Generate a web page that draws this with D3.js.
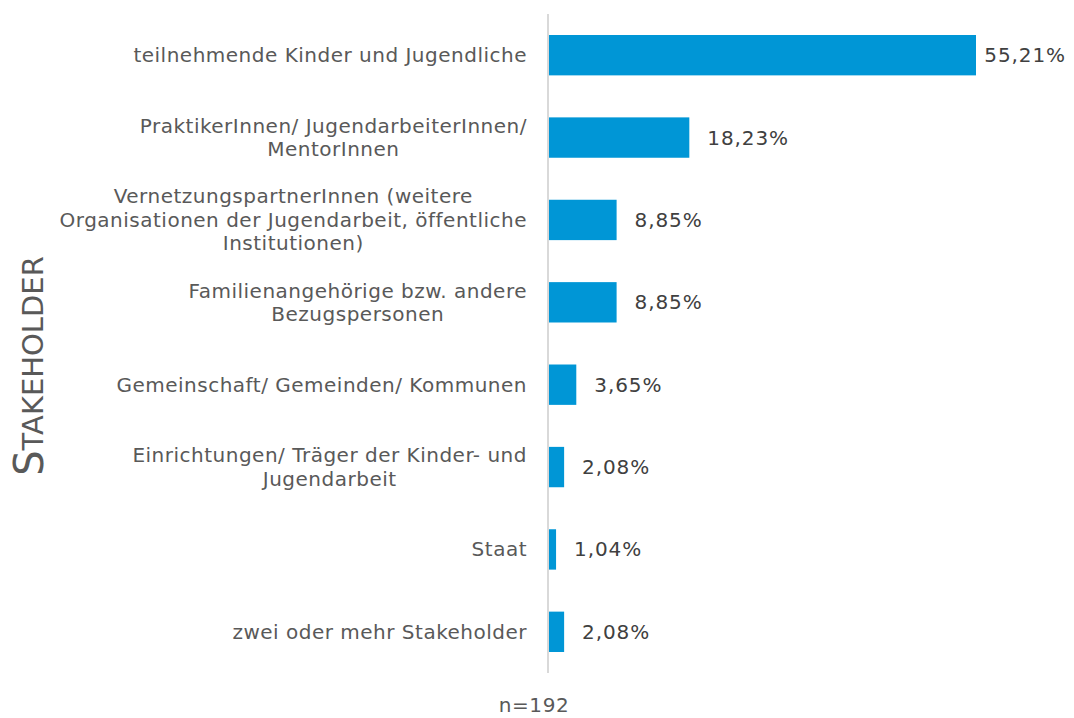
<!DOCTYPE html>
<html>
<head>
<meta charset="utf-8">
<script src="https://cdn.jsdelivr.net/npm/d3@7"></script>
<style>
  body { margin: 0; background: #fff; }
  svg text { font-family: Verdana, "DejaVu Sans", sans-serif; }
</style>
</head>
<body>
<div id="chart"></div>
<script>
// category labels, split in lines as in the picture
const categories = [
    ['teilnehmende Kinder und Jugendliche'],
    ['PraktikerInnen/ JugendarbeiterInnen/', 'MentorInnen'],
    ['VernetzungspartnerInnen (weitere', 'Organisationen der Jugendarbeit, öffentliche', 'Institutionen)'],
    ['Familienangehörige bzw. andere', 'Bezugspersonen'],
    ['Gemeinschaft/ Gemeinden/ Kommunen'],
    ['Einrichtungen/ Träger der Kinder- und', 'Jugendarbeit'],
    ['Staat'],
    ['zwei oder mehr Stakeholder']
];
const values = [55.21, 18.23, 8.85, 8.85, 3.65, 2.08, 1.04, 2.08];
const axisTitle = 'Stakeholder';
const footNote = 'n=192';

const width = 1074, height = 718;
const axisX = 548;
const labelRight = 527;
const lineH = 23.5;

const svg = d3.select('#chart').append('svg')
    .attr('width', width)
    .attr('height', height);

const x = d3.scaleLinear()
    .domain([0, 55.21])
    .range([axisX, 976]);

const y = d3.scaleBand()
    .domain(d3.range(categories.length))
    .range([14, 673])
    .paddingInner(0.51)
    .paddingOuter(0.255);

// bars
svg.append('g')
    .selectAll('rect')
    .data(values)
    .join('rect')
    .attr('x', x(0))
    .attr('y', (d, i) => y(i))
    .attr('width', d => x(d) - x(0))
    .attr('height', y.bandwidth())
    .attr('fill', '#0096D6');

// axis line
svg.append('line')
    .attr('x1', axisX).attr('x2', axisX)
    .attr('y1', 14).attr('y2', 673)
    .attr('stroke', '#d9d9d9')
    .attr('stroke-width', 2);

// value labels, pushed back inside the frame when they would overflow
svg.append('g')
    .selectAll('text')
    .data(values)
    .join('text')
    .attr('y', (d, i) => y(i) + y.bandwidth() / 2)
    .attr('dy', '0.35em')
    .attr('fill', '#404040')
    .style('font-size', '20px')
    .style('letter-spacing', '0.9px')
    .text(d => d.toFixed(2).replace('.', ',') + '%')
    .each(function (d) {
        const w = this.getComputedTextLength();
        d3.select(this).attr('x', Math.min(x(d) + 18, 1066 - w));
    });

// category labels: lines centered within a block that is right aligned
categories.forEach((lines, i) => {
    const g = svg.append('g');
    const cy = y(i) + y.bandwidth() / 2;
    const texts = lines.map((line, j) => g.append('text')
        .attr('y', cy + (j - (lines.length - 1) / 2) * lineH)
        .attr('dy', '0.35em')
        .attr('text-anchor', 'middle')
        .attr('fill', '#595959')
        .style('font-size', '20px')
        .style('letter-spacing', '0.5px')
        .text(line));
    const blockW = d3.max(texts, t => t.node().getComputedTextLength());
    texts.forEach(t => t.attr('x', labelRight - blockW / 2));
});

// axis title in small caps
const title = svg.append('text')
    .attr('transform', `translate(43, ${366}) rotate(-90)`)
    .attr('text-anchor', 'middle')
    .attr('fill', '#595959');
title.append('tspan').style('font-size', '40px').text(axisTitle[0].toUpperCase());
title.append('tspan').style('font-size', '29px').text(axisTitle.slice(1).toUpperCase());

// footnote
svg.append('text')
    .attr('x', 534)
    .attr('y', 712)
    .attr('text-anchor', 'middle')
    .attr('fill', '#595959')
    .style('font-size', '20px')
    .style('letter-spacing', '0.6px')
    .text(footNote);
</script>
</body>
</html>
